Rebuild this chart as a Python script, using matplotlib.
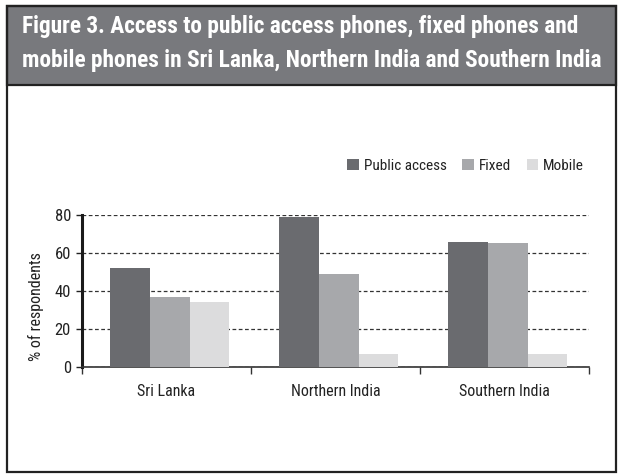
import numpy as np
import matplotlib.pyplot as plt
from matplotlib.patches import Rectangle, Patch

regions = ["Sri Lanka", "Northern India", "Southern India"]
series = ["Public access", "Fixed", "Mobile"]
public_access = [52, 79, 66]
fixed = [37, 49, 65]
mobile = [34, 7, 7]
yticks = [0, 20, 40, 60, 80]

colors = ["#6a6b6f", "#a7a8ab", "#dcdcdd"]
plt.rcParams["font.family"] = ["Roboto Condensed", "DejaVu Sans"]

fig = plt.figure(figsize=(6.18, 4.74), dpi=100)
fig.patch.set_facecolor("white")

# title band and outer frame
fig.patches.append(Rectangle((7 / 618, 1 - 85 / 474), 609 / 618, 79 / 474,
                             transform=fig.transFigure, facecolor="#78797d",
                             edgecolor="#222222", linewidth=1.6, zorder=1))
fig.patches.append(Rectangle((7 / 618, 1 - 472 / 474), 609 / 618, 466 / 474,
                             transform=fig.transFigure, facecolor="none",
                             edgecolor="#222222", linewidth=1.6, zorder=5))
fig.text(22 / 618, 1 - 26 / 474,
         "Figure 3. Access to public access phones, fixed phones and",
         color="white", fontsize=16.8, fontweight="bold", va="center", ha="left")
fig.text(22 / 618, 1 - 60 / 474,
         "mobile phones in Sri Lanka, Northern India and Southern India",
         color="white", fontsize=16.8, fontweight="bold", va="center", ha="left")

ax = fig.add_axes([82 / 618, 1 - 367 / 474, 507 / 618, 152 / 474])

x = np.arange(len(regions))
w = 0.235
for i, (vals, name) in enumerate(zip([public_access, fixed, mobile], series)):
    ax.bar(x + (i - 1) * w + 0.02, vals, width=w, color=colors[i],
           label=name, zorder=3)

ax.set_xlim(-0.5, 2.5)
ax.set_ylim(0, 80)
ax.set_yticks(yticks)
ax.set_yticklabels([str(v) for v in yticks], fontsize=12, color="#222222")
ax.yaxis.grid(True, linestyle=(0, (3, 2)), color="#333333", linewidth=0.9,
              zorder=0)
ax.set_axisbelow(True)

ax.set_xticks(x)
ax.set_xticklabels(regions, fontsize=11.5, color="#222222")
ax.tick_params(axis="x", which="major", length=0, pad=12)
ax.set_xticks([-0.5, 0.5, 1.5, 2.5], minor=True)
ax.tick_params(axis="x", which="minor", length=5, width=1, color="#333333",
               direction="out")
ax.tick_params(axis="y", length=4, width=1, direction="out", pad=4,
               color="#222222")

for s in ["top", "right"]:
    ax.spines[s].set_visible(False)
ax.spines["left"].set_linewidth(2.2)
ax.spines["left"].set_color("#1a1a1a")
ax.spines["bottom"].set_linewidth(1.2)
ax.spines["bottom"].set_color("#333333")

fig.text(36 / 618, 1 - 307 / 474, "% of respondents", rotation=90,
         fontsize=11.5, color="#222222", ha="center", va="center")

handles = [Patch(facecolor=c, edgecolor="none") for c in colors]
fig.legend(handles, series, loc="center right",
           bbox_to_anchor=(598 / 618, 1 - 166 / 474), ncol=3, frameon=False,
           fontsize=11, handlelength=0.75, handleheight=0.75,
           handletextpad=0.35, columnspacing=1.0, labelcolor="#222222")

fig.savefig("out.png", dpi=100)
